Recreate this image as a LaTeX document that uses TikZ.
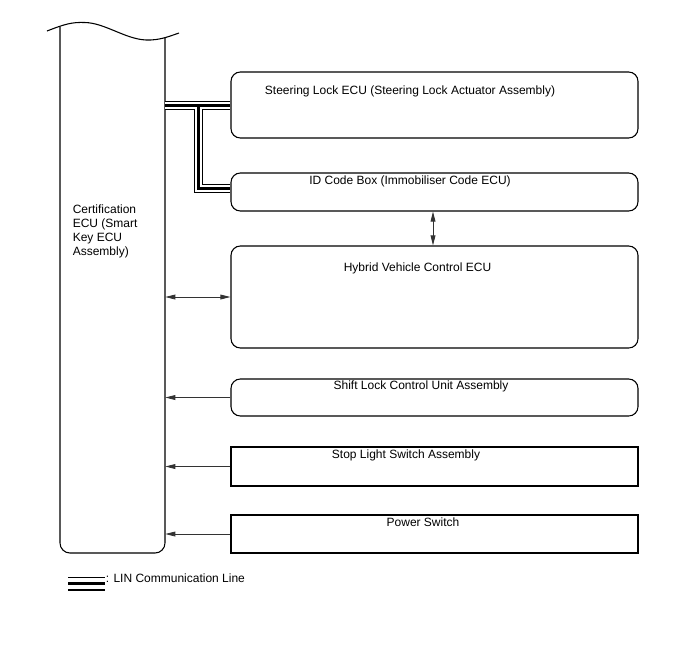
\documentclass[tikz,border=0pt]{standalone}
\usepackage{fontspec}
\setmainfont{Liberation Sans}
\usetikzlibrary{arrows.meta,positioning}

\begin{document}
\begin{tikzpicture}[x=0.75pt, y=-0.75pt,
    box/.style={draw, line width=0.8pt, rounded corners=7pt, minimum width=305.25pt, inner sep=0pt},
    sqbox/.style={box, sharp corners},
    txt/.style={font=\fontsize{9}{10.4}\selectfont, inner sep=0pt},
    arr/.style={-{Triangle[length=7.5pt,width=3.6pt]}, line width=0.6pt, draw=black!80},
    dblarr/.style={{Triangle[length=7.5pt,width=3.6pt]}-{Triangle[length=7.5pt,width=3.6pt]}, line width=0.6pt, draw=black!80},
    lin/.style={draw, line width=6.75pt, postaction={draw=white, line width=5.25pt, postaction={draw=black, line width=2.25pt}}}
]
\useasboundingbox (0,0) rectangle (688,658);

% certification ECU (open top)
\node[inner sep=0pt, minimum width=78.75pt, minimum height=395.25pt] (ecu) at (112.5,289.5) {};
\draw[line width=0.8pt] (47,31) .. controls (65,24) and (72,22) .. (85,22.5)
    .. controls (105,23) and (125,39) .. (146,40) .. controls (160,40.5) and (170,36) .. (179,33);
\draw[line width=0.8pt, rounded corners=7.5pt] (60,26.5) -- (60,553) -- (165,553) -- (165,37.5);
\node[txt, anchor=north west, align=left] (ecutxt) at (72.5,205) {Certification\\ECU (Smart\\Key ECU\\Assembly)};

% receivers
\node[box, minimum height=49.5pt] (steer) at (434.5,105) {};
\node[box, minimum height=28.5pt] (idbox) at (434.5,192) {};
\node[box, minimum height=76.5pt] (hybrid) at (434.5,297) {};
\node[box, minimum height=27.75pt] (shift) at (434.5,397.5) {};
\node[sqbox, minimum height=29.25pt] (stop) at (434.5,466.5) {};
\node[sqbox, minimum height=28.5pt] (power) at (434.5,534) {};

\node[txt] (steertxt) at (410,91) {Steering Lock ECU (Steering Lock Actuator Assembly)};
\node[txt] (idtxt) at (410,181) {ID Code Box (Immobiliser Code ECU)};
\node[txt] (hybtxt) at (417.5,268) {Hybrid Vehicle Control ECU};
\node[txt] (shifttxt) at (421,386) {Shift Lock Control Unit Assembly};
\node[txt] (stoptxt) at (406,455) {Stop Light Switch Assembly};
\node[txt] (powertxt) at (423,522) {Power Switch};

% LIN bus
\coordinate (lintap) at (198.5,105);
\path[lin] (steer.west -| ecu.east) -- (steer.west) (lintap) |- ([yshift=3pt]idbox.west);

% signal lines
\draw[dblarr] (idbox.south -| 433,0) -- (hybrid.north -| 433,0);
\draw[dblarr] (hybrid.west -| ecu.east) -- (hybrid.west);
\draw[arr] (shift.west) -- (shift.west -| ecu.east);
\draw[arr] (stop.west) -- (stop.west -| ecu.east);
\draw[arr] (power.west) -- (power.west -| ecu.east);

% legend
\draw[line width=0.9pt] (68,577.5) -- (105,577.5);
\draw[line width=2.6pt] (68,583.5) -- (105,583.5);
\draw[line width=1.3pt] (68,590) -- (105,590);
\node[txt, anchor=west] (legtxt) at (105.5,578) {: LIN Communication Line};
\end{tikzpicture}
\end{document}
